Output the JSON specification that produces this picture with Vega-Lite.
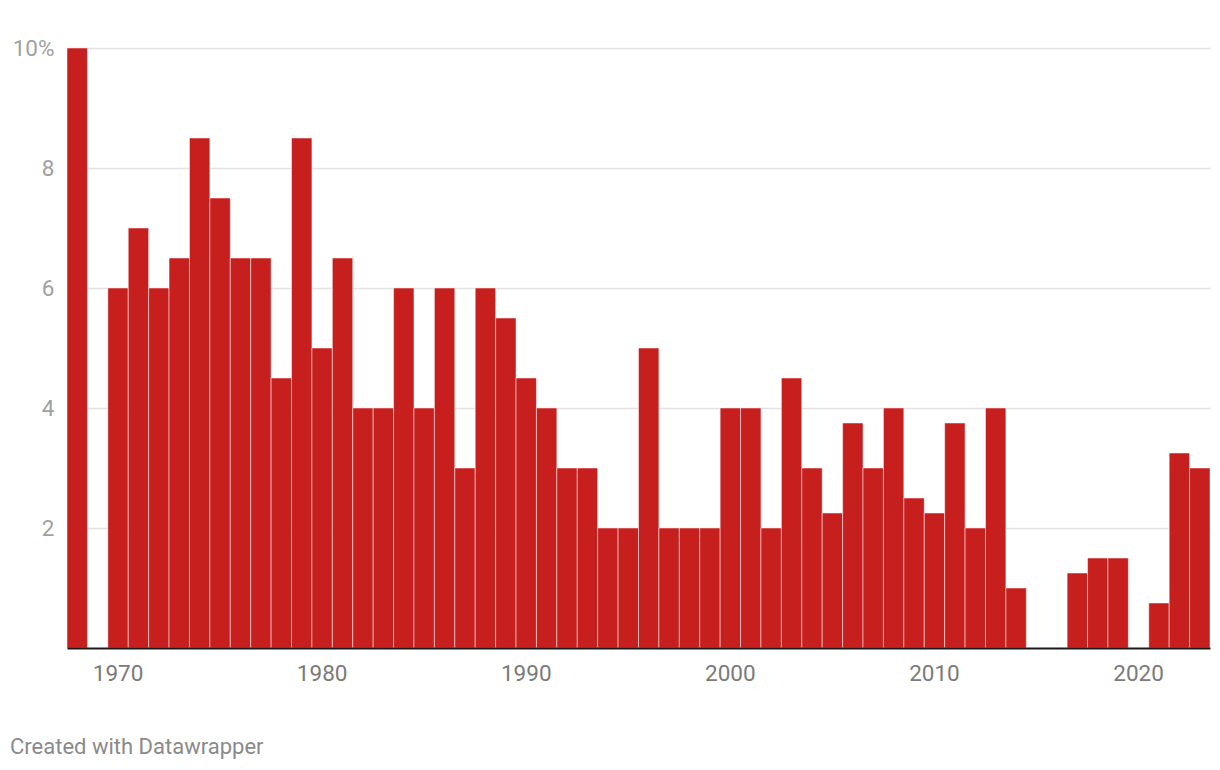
{
  "$schema": "https://vega.github.io/schema/vega-lite/v6.json",
  "width": 1143,
  "height": 600,
  "autosize": {"type": "none"},
  "padding": {"left": 67, "top": 48, "right": 10, "bottom": 122},
  "background": "white",
  "config": {
    "font": "Roboto",
    "view": {"stroke": null}
  },
  "title": {
    "text": "Created with Datawrapper",
    "orient": "bottom",
    "anchor": "start",
    "frame": "group",
    "dx": -57,
    "offset": 52,
    "fontSize": 22,
    "fontWeight": "normal",
    "color": "#8a8a8a",
    "font": "Roboto"
  },
  "data": {
    "values": [
      {"year": 1968, "value": 10},
      {"year": 1969, "value": 0},
      {"year": 1970, "value": 6},
      {"year": 1971, "value": 7},
      {"year": 1972, "value": 6},
      {"year": 1973, "value": 6.5},
      {"year": 1974, "value": 8.5},
      {"year": 1975, "value": 7.5},
      {"year": 1976, "value": 6.5},
      {"year": 1977, "value": 6.5},
      {"year": 1978, "value": 4.5},
      {"year": 1979, "value": 8.5},
      {"year": 1980, "value": 5},
      {"year": 1981, "value": 6.5},
      {"year": 1982, "value": 4},
      {"year": 1983, "value": 4},
      {"year": 1984, "value": 6},
      {"year": 1985, "value": 4},
      {"year": 1986, "value": 6},
      {"year": 1987, "value": 3},
      {"year": 1988, "value": 6},
      {"year": 1989, "value": 5.5},
      {"year": 1990, "value": 4.5},
      {"year": 1991, "value": 4},
      {"year": 1992, "value": 3},
      {"year": 1993, "value": 3},
      {"year": 1994, "value": 2},
      {"year": 1995, "value": 2},
      {"year": 1996, "value": 5},
      {"year": 1997, "value": 2},
      {"year": 1998, "value": 2},
      {"year": 1999, "value": 2},
      {"year": 2000, "value": 4},
      {"year": 2001, "value": 4},
      {"year": 2002, "value": 2},
      {"year": 2003, "value": 4.5},
      {"year": 2004, "value": 3},
      {"year": 2005, "value": 2.25},
      {"year": 2006, "value": 3.75},
      {"year": 2007, "value": 3},
      {"year": 2008, "value": 4},
      {"year": 2009, "value": 2.5},
      {"year": 2010, "value": 2.25},
      {"year": 2011, "value": 3.75},
      {"year": 2012, "value": 2},
      {"year": 2013, "value": 4},
      {"year": 2014, "value": 1},
      {"year": 2015, "value": 0},
      {"year": 2016, "value": 0},
      {"year": 2017, "value": 1.25},
      {"year": 2018, "value": 1.5},
      {"year": 2019, "value": 1.5},
      {"year": 2020, "value": 0},
      {"year": 2021, "value": 0.75},
      {"year": 2022, "value": 3.25},
      {"year": 2023, "value": 3}
    ]
  },
  "mark": {"type": "bar", "color": "#c71e1e", "stroke": "white", "strokeWidth": 0.5},
  "encoding": {
    "x": {
      "field": "year",
      "type": "ordinal",
      "scale": {"paddingInner": 0, "paddingOuter": 0},
      "axis": {
        "title": null,
        "values": [1970, 1980, 1990, 2000, 2010, 2020],
        "labelAngle": 0,
        "labelFontSize": 22.5,
        "labelColor": "#7a7a7a",
        "labelPadding": 14,
        "ticks": false,
        "domainColor": "#1a1a1a",
        "domainWidth": 2,
        "grid": false,
        "zindex": 1
      }
    },
    "y": {
      "field": "value",
      "type": "quantitative",
      "scale": {"domain": [0, 10], "nice": false},
      "axis": {
        "title": null,
        "values": [2, 4, 6, 8, 10],
        "labelExpr": "datum.value == 10 ? '10%' : datum.label",
        "labelFontSize": 22.5,
        "labelColor": "#a0a0a0",
        "labelPadding": 13,
        "ticks": false,
        "domain": false,
        "grid": true,
        "gridColor": "#e2e2e2",
        "gridWidth": 1.5
      }
    }
  }
}
